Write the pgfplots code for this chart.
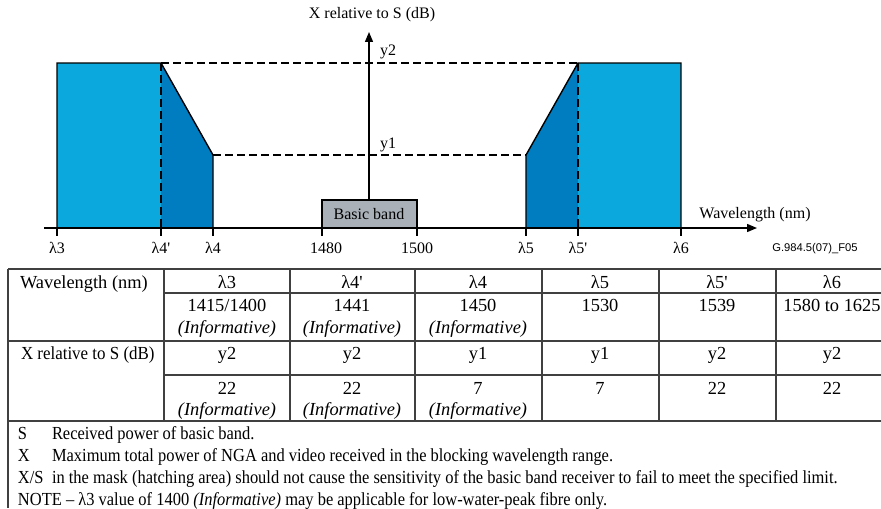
\documentclass[border=0pt]{standalone}
\usepackage{pgfplots}
\pgfplotsset{compat=1.18}
\usepackage{fontspec}
\setmainfont{Liberation Serif}
\newfontfamily\notefont[FakeStretch=0.895]{Liberation Serif}
\newfontfamily\labfont[FakeStretch=0.92]{Liberation Serif}
\newfontfamily\codefont{Liberation Sans}
\usetikzlibrary{arrows.meta}
\definecolor{lightb}{HTML}{0AA8DC}
\definecolor{darkb}{HTML}{007CC0}
\definecolor{bandgray}{HTML}{A9B0B8}
\newcommand{\pr}{\textquotesingle}
\begin{document}
\begin{tikzpicture}[every node/.style={inner sep=0pt, outer sep=0pt}]
\begin{axis}[
  scale only axis, width=440.5pt, height=254pt,
  xmin=0,xmax=881,ymin=0,ymax=508, y dir=reverse,
  axis lines=none, clip=false,
  unbounded coords=jump,
]
\coordinate (BBsw) at (axis cs:0,508);
\coordinate (BBne) at (axis cs:881,0);
% ---- mask fills
\addplot[fill=lightb, draw=none] coordinates {(57,228)(57,63)(161,63)(161,228)} -- cycle;
\addplot[fill=darkb, draw=none] coordinates {(161,228)(161,63)(213,155)(213,228)} -- cycle;
\addplot[fill=darkb, draw=none] coordinates {(526,228)(526,155)(578,63)(578,228)} -- cycle;
\addplot[fill=lightb, draw=none] coordinates {(578,228)(578,63)(681,63)(681,228)} -- cycle;
% ---- mask outlines
\addplot[black, line width=0.7pt] coordinates {(57,228)(57,63)(161,63)(213,155)(213,228)};
\addplot[black, line width=0.7pt] coordinates {(526,228)(526,155)(578,63)(681,63)(681,228)};
% ---- dashed guides
\addplot[black, line width=0.7pt, dash pattern=on 4pt off 2pt] coordinates {(161,63)(161,228)};
\addplot[black, line width=0.7pt, dash pattern=on 4pt off 2pt] coordinates {(578,63)(578,228)};
\addplot[black, line width=0.7pt, dash pattern=on 4pt off 2pt] coordinates {(161,63)(578,63)};
\addplot[black, line width=0.7pt, dash pattern=on 4pt off 2pt] coordinates {(213,155)(526,155)};
% ---- basic band box
\addplot[fill=bandgray, draw=black, line width=0.7pt] coordinates {(322,228)(322,200)(417,200)(417,228)} -- cycle;
% ---- axes
\addplot[black, line width=0.7pt, -{Triangle[length=5pt,width=4pt]}] coordinates {(369,200)(369,32)};
\addplot[black, line width=0.7pt, -{Triangle[length=5pt,width=4pt]}] coordinates {(44,228)(757,228)};
% ---- ticks
\addplot[black, line width=0.7pt] coordinates {
 (57,228)(57,236) (57,nan)
 (161,228)(161,236) (161,nan)
 (213,228)(213,236) (213,nan)
 (322,228)(322,236) (322,nan)
 (417,228)(417,236) (417,nan)
 (526,228)(526,236) (526,nan)
 (578,228)(578,236) (578,nan)
 (681,228)(681,236)};
% ---- diagram text
\begin{scope}[every node/.append style={font=\fontsize{8}{9}\selectfont, anchor=base}]
\node at (axis cs:372,19) {X relative to S (dB)};
\node at (axis cs:388,55) {y2};
\node at (axis cs:388,148) {y1};
\node at (axis cs:369,219) {Basic band};
\node at (axis cs:755,218) {Wavelength (nm)};
\node at (axis cs:57,253) {λ3};
\node at (axis cs:161,253) {λ4\pr};
\node at (axis cs:213,253) {λ4};
\node at (axis cs:326,253) {1480};
\node at (axis cs:417,253) {1500};
\node at (axis cs:526,253) {λ5};
\node at (axis cs:578,253) {λ5\pr};
\node at (axis cs:681,253) {λ6};
\end{scope}
\node[font=\codefont\fontsize{5.6}{6}\selectfont] at (axis cs:815,249) {G.984.5(07)\_F05};
% ---- table lines
\addplot[black!75, line width=0.6pt] coordinates {
 (8,269)(881,269) (8,nan)
 (164,293)(881,293) (164,nan)
 (8,341)(881,341) (8,nan)
 (164,375)(881,375) (164,nan)
 (8,421)(881,421) (8,nan)
 (8,269)(8,508) (8,nan)
 (164,269)(164,421) (164,nan)
 (290,269)(290,421) (290,nan)
 (415,269)(415,421) (415,nan)
 (542,269)(542,421) (542,nan)
 (659,269)(659,421) (659,nan)
 (776,269)(776,421)};
% ---- table text
\begin{scope}[every node/.append style={font=\fontsize{9.2}{11}\selectfont, anchor=base}]
\node[anchor=base west] at (axis cs:20,288) {Wavelength (nm)};
\node at (axis cs:227,288) {λ3};
\node at (axis cs:352,288) {λ4\pr};
\node at (axis cs:478,288) {λ4};
\node at (axis cs:600,288) {λ5};
\node at (axis cs:717,288) {λ5\pr};
\node at (axis cs:832,288) {λ6};
\node at (axis cs:227,311) {1415/1400};
\node at (axis cs:352,311) {1441};
\node at (axis cs:478,311) {1450};
\node at (axis cs:600,311) {1530};
\node at (axis cs:717,311) {1539};
\node at (axis cs:832,311) {1580 to 1625};
\node at (axis cs:227,333) {\textit{(Informative)}};
\node at (axis cs:352,333) {\textit{(Informative)}};
\node at (axis cs:478,333) {\textit{(Informative)}};
\node[anchor=base west, font=\labfont\fontsize{9.2}{11}\selectfont] at (axis cs:21,359) {X relative to S (dB)};
\node at (axis cs:227,359) {y2};
\node at (axis cs:352,359) {y2};
\node at (axis cs:478,359) {y1};
\node at (axis cs:600,359) {y1};
\node at (axis cs:717,359) {y2};
\node at (axis cs:832,359) {y2};
\node at (axis cs:227,394) {22};
\node at (axis cs:352,394) {22};
\node at (axis cs:478,394) {7};
\node at (axis cs:600,394) {7};
\node at (axis cs:717,394) {22};
\node at (axis cs:832,394) {22};
\node at (axis cs:227,415) {\textit{(Informative)}};
\node at (axis cs:352,415) {\textit{(Informative)}};
\node at (axis cs:478,415) {\textit{(Informative)}};
\end{scope}
% ---- notes
\begin{scope}[every node/.append style={font=\notefont\fontsize{9.2}{11}\selectfont, anchor=base west}]
\node at (axis cs:18,439) {S};
\node at (axis cs:52,439) {Received power of basic band.};
\node at (axis cs:18,461) {X};
\node at (axis cs:52,461) {Maximum total power of NGA and video received in the blocking wavelength range.};
\node at (axis cs:18,483) {X/S};
\node at (axis cs:52,483) {in the mask (hatching area) should not cause the sensitivity of the basic band receiver to fail to meet the specified limit.};
\node at (axis cs:18,505) {NOTE – λ3 value of 1400 \textit{(Informative)} may be applicable for low-water-peak fibre only.};
\end{scope}
\end{axis}
\pgfresetboundingbox
\path (BBsw) rectangle (BBne);
\end{tikzpicture}
\end{document}
